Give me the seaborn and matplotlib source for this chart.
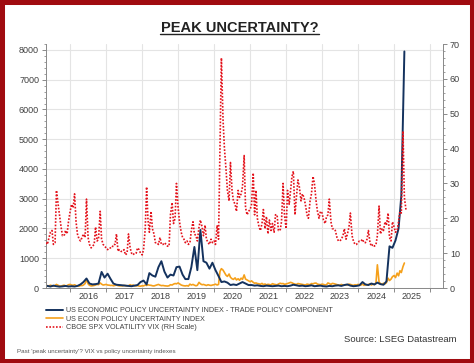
# ============================================================
# Peak uncertainty? VIX vs policy uncertainty indexes
# Tools: Python, Matplotlib, Seaborn
# ============================================================

import pandas as pd
import numpy as np
import matplotlib
matplotlib.use("Agg")
import matplotlib.pyplot as plt
import matplotlib.dates as mdates
from matplotlib.ticker import MultipleLocator, NullFormatter
from matplotlib.lines import Line2D
from matplotlib.patches import Rectangle
import seaborn as sns

sns.set_theme(style="white")
plt.rcParams['font.family'] = ['Liberation Sans', 'DejaVu Sans']

# ------------------------------------------------------------
# Data
# ------------------------------------------------------------
# CBOE VIX, twice a month (1st and 15th), May 2015 -> May 2025
vix_2015 = [13, 12.5, 14.5, 16, 16.5, 12.5, 13, 28, 24, 21, 17.5, 15, 15, 16.5, 15.5, 19]
vix_2016 = [22, 24, 23, 27, 19, 15.5, 14, 13.5, 14.5, 15.5, 14.5, 25.5,
            14.5, 12.5, 11.5, 12, 12.5, 17.5, 13.5, 14, 22, 14, 12.5, 12]
vix_2017 = [11.5, 11, 11.5, 11.5, 11.5, 12.5, 12.5, 15.5, 10.5, 11, 10.5, 10.5,
            11, 9.5, 10, 15.5, 11.5, 10, 9.5, 10, 10, 11.5, 11, 10]
vix_2018 = [9.5, 11, 17, 29, 19.5, 16, 22, 17, 15.5, 13, 13, 12.5,
            14.5, 12.5, 12.5, 13, 12.5, 12, 12, 21, 24.5, 18.5, 20, 30]
vix_2019 = [23, 19, 16, 14.5, 14, 13, 13.5, 12.5, 13, 16.5, 19, 15.5,
            15, 13.5, 17.5, 19.5, 17.5, 15, 18, 14, 13, 12.5, 14, 13]
vix_2020 = [13.5, 12.5, 18, 14, 40, 66, 48, 40, 34, 28, 25, 36,
            28, 25, 24, 22, 28, 26, 27, 29, 38, 23, 21, 22]
vix_2021 = [22.5, 24, 33, 21, 28, 20, 17.5, 16.5, 18.5, 22.5, 17, 20.5,
            15.5, 19.5, 16.5, 18.5, 16, 21, 21, 16.5, 16.5, 19, 30, 21]
vix_2022 = [17, 28, 24, 28, 32, 33.5, 21, 26, 31, 29, 25, 27,
            26, 24, 21, 20, 25, 27, 32, 30, 25, 22, 20, 22]
vix_2023 = [21.5, 19.5, 18.5, 20.5, 21, 25.5, 19, 17, 17, 16.5, 14.5, 13.5,
            13.5, 14, 15, 17, 14, 15.5, 17.5, 21.5, 15, 13.5, 12.5, 12.5]
vix_2024 = [13, 13.5, 13.5, 14, 13, 13, 14, 16.5, 13, 12, 12.5, 12,
            12.5, 15, 23.5, 15.5, 17, 16.5, 19, 18, 21.5, 14.5, 13.5, 19]
vix_2025 = [17.5, 16, 16.5, 19, 22, 21.5, 45, 26, 22.5]

# US Econ Policy Uncertainty index, twice a month, May 2015 -> Apr 2025
epu_2015 = [60, 80, 70, 95, 75, 60, 85, 120, 90, 70, 60, 80, 95, 70, 80, 110]
epu_2016 = [120, 100, 90, 110, 80, 70, 60, 85, 80, 100, 150, 290,
            140, 90, 70, 75, 85, 100, 120, 110, 170, 130, 100, 110]
epu_2017 = [120, 100, 95, 85, 90, 75, 90, 100, 80, 70, 75, 70,
            85, 80, 70, 75, 110, 85, 100, 75, 70, 80, 65, 60]
epu_2018 = [75, 70, 100, 85, 110, 95, 90, 75, 70, 85, 100, 120,
            95, 80, 85, 75, 70, 65, 75, 110, 100, 130, 150, 140]
epu_2019 = [170, 140, 100, 85, 75, 70, 80, 65, 130, 100, 120, 95,
            75, 90, 190, 140, 110, 120, 100, 85, 110, 95, 85, 100]
epu_2020 = [110, 130, 100, 120, 560, 650, 600, 520, 430, 390, 470, 360,
            310, 290, 340, 270, 310, 260, 330, 290, 440, 300, 270, 240]
epu_2021 = [210, 240, 190, 160, 170, 150, 140, 125, 155, 115, 135, 105,
            125, 115, 105, 145, 125, 115, 105, 135, 160, 145, 150, 125]
epu_2022 = [135, 150, 170, 190, 175, 150, 130, 120, 150, 140, 130, 120,
            110, 100, 130, 120, 110, 150, 140, 160, 165, 130, 120, 110]
epu_2023 = [130, 120, 100, 110, 170, 150, 120, 155, 145, 130, 110, 100,
            90, 120, 100, 95, 110, 100, 130, 120, 100, 90, 110, 100]
epu_2024 = [120, 110, 100, 130, 90, 110, 100, 120, 140, 100, 130, 110,
            180, 780, 200, 150, 120, 160, 140, 180, 330, 250, 300, 380]
epu_2025 = [420, 350, 500, 410, 580, 520, 720, 840]

# Trade policy component, monthly, May 2015 -> Apr 2025
tpu_2015 = [70, 50, 80, 60, 45, 55, 70, 50]
tpu_2016 = [60, 50, 70, 120, 200, 320, 150, 120, 130, 150, 540, 350]
tpu_2017 = [480, 300, 150, 110, 100, 90, 80, 70, 60, 80, 100, 200]
tpu_2018 = [250, 120, 500, 420, 380, 700, 900, 550, 350, 450, 420, 700]
tpu_2019 = [720, 450, 300, 300, 700, 1380, 600, 1950, 900, 850, 650, 850]
tpu_2020 = [600, 400, 200, 220, 180, 100, 120, 100, 150, 200, 150, 100]
tpu_2021 = [100, 80, 90, 70, 60, 80, 70, 60, 70, 80, 60, 70]
tpu_2022 = [60, 80, 110, 90, 70, 80, 60, 70, 90, 60, 70, 80]
tpu_2023 = [60, 50, 70, 60, 80, 90, 70, 100, 120, 80, 60, 70]
tpu_2024 = [90, 200, 120, 100, 150, 120, 180, 130, 110, 220, 1400, 1350]
tpu_2025 = [1600, 2000, 3100, 7950]

year_labels = [str(y) for y in range(2016, 2026)]

vix = sum([vix_2015, vix_2016, vix_2017, vix_2018, vix_2019, vix_2020,
           vix_2021, vix_2022, vix_2023, vix_2024, vix_2025], [])
epu = sum([epu_2015, epu_2016, epu_2017, epu_2018, epu_2019, epu_2020,
           epu_2021, epu_2022, epu_2023, epu_2024, epu_2025], [])
tpu = sum([tpu_2015, tpu_2016, tpu_2017, tpu_2018, tpu_2019, tpu_2020,
           tpu_2021, tpu_2022, tpu_2023, tpu_2024, tpu_2025], [])

vix_dates = pd.date_range('2015-05-01', periods=len(vix), freq='SMS')
epu_dates = pd.date_range('2015-05-01', periods=len(epu), freq='SMS')
tpu_dates = pd.date_range('2015-05-01', periods=len(tpu), freq='MS') + pd.Timedelta(days=14)

NAVY = '#14325e'
ORANGE = '#f5a01a'
RED = '#e3121b'
TXT = '#404040'

# ------------------------------------------------------------
# Figure
# ------------------------------------------------------------
W, H = 474, 363
fig = plt.figure(figsize=(W / 100, H / 100), dpi=100)
fig.patch.set_facecolor('white')

ax = fig.add_axes([46 / W, 1 - 288 / H, (443 - 46) / W, (288 - 44) / H])
ax2 = ax.twinx()

sns.lineplot(x=epu_dates, y=epu, ax=ax, color=ORANGE, lw=1.2,
             label='US ECON POLICY UNCERTAINTY INDEX')
sns.lineplot(x=tpu_dates, y=tpu, ax=ax, color=NAVY, lw=1.4,
             label='US ECONOMIC POLICY UNCERTAINTY INDEX - TRADE POLICY COMPONENT')
sns.lineplot(x=vix_dates, y=vix, ax=ax2, color=RED, lw=1.2, linestyle=(0, (1, 1)),
             label='CBOE SPX VOLATILITY VIX (RH Scale)')

for a in (ax, ax2):
    if a.get_legend() is not None:
        a.get_legend().remove()
    a.set_xlabel('')
    a.set_ylabel('')

# axes limits
ax.set_xlim(pd.Timestamp('2015-05-01'), pd.Timestamp('2026-05-12'))
ax.set_ylim(0, 8200)
ax2.set_ylim(0, 70)

# y ticks
ax.yaxis.set_major_locator(MultipleLocator(1000))
ax.yaxis.set_minor_locator(MultipleLocator(200))
ax2.yaxis.set_major_locator(MultipleLocator(10))
ax2.yaxis.set_minor_locator(MultipleLocator(2))

# x ticks: marks at year start, labels mid-year
ax.xaxis.set_major_locator(mdates.YearLocator())
ax.xaxis.set_major_formatter(NullFormatter())
mid_years = [mdates.date2num(pd.Timestamp(f'{y}-07-02')) for y in year_labels]
ax.set_xticks(mid_years, minor=True)
ax.set_xticklabels(year_labels, minor=True)

ax.tick_params(axis='x', which='major', bottom=True, length=3, width=0.6, color='#777')
ax.tick_params(axis='x', which='minor', bottom=True, length=0, pad=3,
               labelsize=6.5, labelcolor=TXT)
ax.tick_params(axis='y', which='major', left=True, length=3, width=0.6, color='#777',
               pad=2, labelsize=6.5, labelcolor=TXT)
ax.tick_params(axis='y', which='minor', left=True, length=1.5, width=0.5, color='#777')
ax2.tick_params(axis='y', which='major', right=True, length=3, width=0.6, color='#777',
                pad=2, labelsize=6.5, labelcolor=TXT)
ax2.tick_params(axis='y', which='minor', right=True, length=1.5, width=0.5, color='#777')

# grid
ax.grid(True, which='major', color='#e4e4e4', lw=0.8)
ax2.grid(False)

for a in (ax, ax2):
    a.spines['top'].set_visible(False)
    for s in ('left', 'right', 'bottom'):
        a.spines[s].set_color('#888888')
        a.spines[s].set_linewidth(0.7)
ax2.spines['left'].set_visible(False)
ax2.spines['bottom'].set_visible(False)
ax.spines['right'].set_visible(False)

# title with underline
fig.text(239.5 / W, 1 - 32.3 / H, 'PEAK UNCERTAINTY?', ha='center', va='baseline',
         fontsize=10.5, fontweight='bold', color='#222222')
fig.add_artist(Line2D([160 / W, 319 / W], [1 - 34 / H, 1 - 34 / H],
                      color='#222222', lw=1.0))

# legend below the plot (order: trade, econ, vix)
h1, l1 = ax.get_legend_handles_labels()
h2, l2 = ax2.get_legend_handles_labels()
handles = [h1[1], h1[0], h2[0]]
labels = [l1[1], l1[0], l2[0]]
leg = fig.legend(handles, labels, loc='upper left', bbox_to_anchor=(46 / W, 1 - 307 / H),
                 frameon=False, fontsize=5.2, handlelength=2.3, handletextpad=0.5,
                 labelspacing=0.2, borderaxespad=0, borderpad=0)
for t in leg.get_texts():
    t.set_color(TXT)

fig.text(457 / W, 1 - 339.3 / H, 'Source: LSEG Datastream', ha='right', va='center',
         fontsize=6.8, color='#333333')
fig.text(17 / W, 1 - 351 / H, "Past 'peak uncertainty'? VIX vs policy uncertainty indexes",
         ha='left', va='center', fontsize=4.5, color='#555555')

# dark red frame
fig.add_artist(Rectangle((0, 0), 1, 1, transform=fig.transFigure, fill=False,
                         edgecolor='#a00b10', lw=6.5))

plt.savefig('out.png', dpi=100)
